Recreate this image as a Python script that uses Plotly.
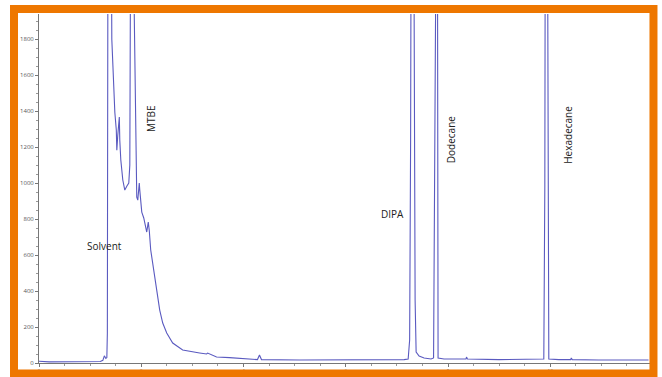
import plotly.graph_objects as go

# retention time (min) and detector response
time = [0.0, 0.2, 1.2, 1.249, 1.278, 1.307, 1.327, 1.337, 1.346, 1.37,
        1.405, 1.424, 1.444, 1.463, 1.483, 1.512, 1.522, 1.541, 1.571, 1.580,
        1.600, 1.639, 1.678, 1.717, 1.756, 1.776, 1.795, 1.815, 1.835, 1.863,
        1.873, 1.893, 1.912, 1.932, 1.961, 1.971, 1.990, 2.010, 2.049, 2.088,
        2.107, 2.137, 2.156, 2.185, 2.244, 2.302, 2.361, 2.420, 2.498, 2.615,
        2.810, 3.141, 3.278, 3.298, 3.473, 3.727, 4.117, 4.273, 4.312, 4.351,
        5.093, 6.068, 7.141, 7.220, 7.249, 7.268, 7.288, 7.307, 7.337, 7.356,
        7.376, 7.434, 7.532, 7.668, 7.717, 7.737, 7.756, 7.766, 7.785, 7.805,
        7.922, 8.351, 8.361, 8.380, 8.995, 9.580, 9.873, 9.893, 9.912, 9.932,
        9.951, 9.971, 10.166, 10.400, 10.410, 10.430, 10.946, 11.922]
signal = [10, 6, 8, 15, 40, 25, 30, 167, 1940, 6000,
          3000, 1800, 1644, 1517, 1394, 1294, 1183, 1267, 1367, 1239,
          1128, 1017, 961, 983, 1000, 1100, 1461, 2200, 6000, 1940,
          1683, 1183, 922, 905, 1000, 961, 878, 839, 806, 750,
          728, 783, 739, 628, 517, 406, 294, 222, 167, 111,
          72, 56, 50, 55, 33, 30, 22, 19, 44, 19,
          17, 17, 19, 22, 128, 1239, 1940, 6000, 1940, 350,
          61, 39, 28, 22, 28, 906, 1940, 8000, 1940, 28,
          22, 22, 33, 22, 19, 19, 22, 989, 1940, 8000,
          1940, 22, 19, 19, 28, 19, 17, 17]

peak_names = ["Solvent", "MTBE", "DIPA", "Dodecane", "Hexadecane"]
label_time = [1.29, 2.185, 6.91, 8.06, 10.34]
label_signal = [650, 1361, 828, 1239, 1267]
label_angle = [0, -90, 0, -90, -90]

x_ticks = [0, 2, 4, 6, 8, 10, 12]
y_ticks = [0, 200, 400, 600, 800, 1000, 1200, 1400, 1600, 1800]

fig = go.Figure()
fig.add_trace(go.Scatter(x=time, y=signal, mode="lines",
                         line=dict(color="#5a5ac0", width=1.1),
                         showlegend=False, hoverinfo="skip"))

for name, tx, ty, ang in zip(peak_names, label_time, label_signal, label_angle):
    fig.add_annotation(x=tx, y=ty, text=name, showarrow=False, textangle=ang,
                       font=dict(family="Open Sans", size=10, color="#222"))

fig.update_layout(
    width=662, height=377, autosize=False,
    margin=dict(l=39, r=12, t=14, b=14, pad=0, autoexpand=False),
    paper_bgcolor="white", plot_bgcolor="white",
    xaxis=dict(range=[0, 11.95], tickvals=x_ticks, showgrid=False, zeroline=False,
               automargin=False,
               showline=True, linecolor="#777", linewidth=1,
               ticks="outside", ticklen=3, tickcolor="#777",
               minor=dict(dtick=0.5, ticks="outside", ticklen=2, tickcolor="#999"),
               tickfont=dict(size=5, color="#777")),
    yaxis=dict(range=[0, 1940], tickvals=y_ticks, showgrid=False, zeroline=False,
               automargin=False,
               showline=True, linecolor="#777", linewidth=1,
               ticks="outside", ticklen=3, tickcolor="#777",
               minor=dict(dtick=50, ticks="outside", ticklen=2, tickcolor="#999"),
               tickfont=dict(size=6, color="#555")),
)

# orange frame around the chart
fig.add_shape(type="rect", xref="paper", yref="paper",
              x0=-0.0409, x1=1.0057, y0=-0.0301, y1=1.0143,
              line=dict(color="#EE7700", width=8), fillcolor="rgba(0,0,0,0)",
              layer="above")

fig.write_html("out.html")
